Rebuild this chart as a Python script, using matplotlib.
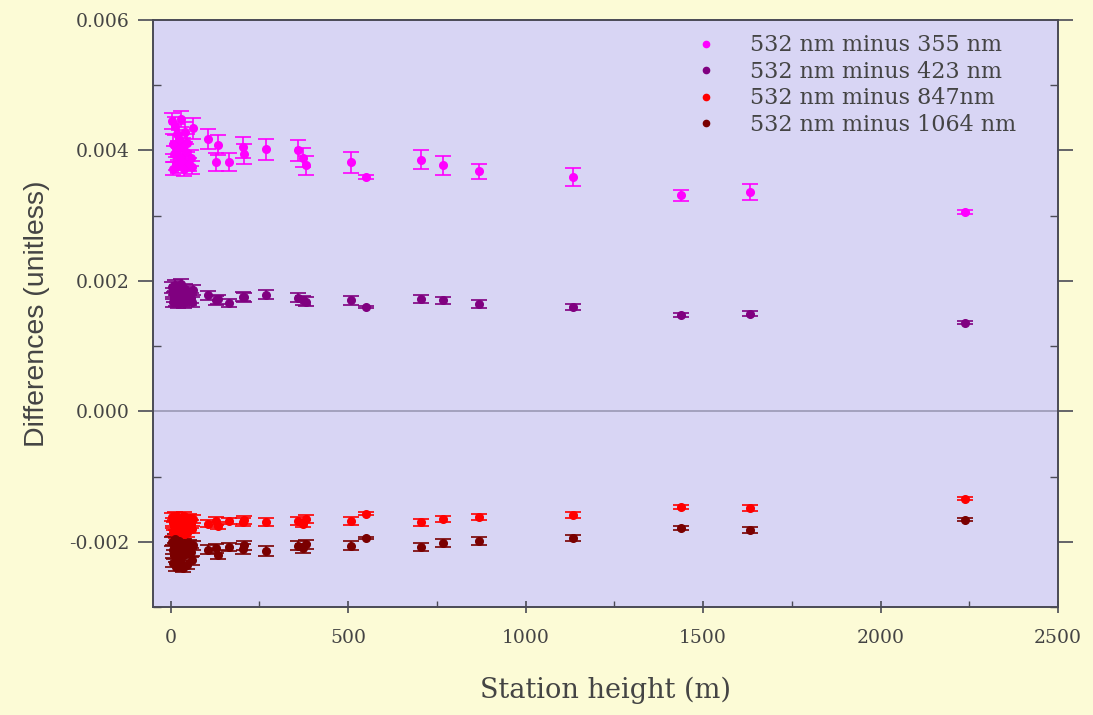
"""Colour differences vs station height
"""

import numpy as np
import matplotlib
matplotlib.use('Agg')
import matplotlib.pyplot as plt
from matplotlib.ticker import MultipleLocator

plt.rcParams['font.family'] = ['DejaVu Serif']

# station heights (m): low-lying cluster first, then the higher stations
heights = [3, 6, 7, 10, 12, 14, 17, 20, 21, 24, 27, 30, 31, 35, 38, 41, 44, 47, 52, 56, 60,
           62, 104, 127, 132, 163, 203, 206, 268, 358, 372, 380, 507, 549, 704, 766, 868,
           1132, 1439, 1631, 2239]

d355 = [0.00445, 0.00372, 0.00410, 0.00395, 0.00438, 0.00380, 0.00425, 0.00402, 0.00376,
        0.00418, 0.00390, 0.00448, 0.00384, 0.00405, 0.00371, 0.00428, 0.00398, 0.00412,
        0.00379, 0.00388, 0.00374,
        0.00434, 0.00418, 0.00382, 0.00408, 0.00382, 0.00405, 0.00395, 0.00402, 0.00400,
        0.00389, 0.00377, 0.00382, 0.00359, 0.00386, 0.00377, 0.00368, 0.00359, 0.00331,
        0.00336, 0.00305]
e355 = [0.00012, 0.00010, 0.00015, 0.00012, 0.00014, 0.00010, 0.00015, 0.00012, 0.00010,
        0.00014, 0.00012, 0.00012, 0.00010, 0.00014, 0.00010, 0.00015, 0.00012, 0.00014,
        0.00010, 0.00012, 0.00010,
        0.00016, 0.00015, 0.00014, 0.00015, 0.00014, 0.00016, 0.00015, 0.00016, 0.00016,
        0.00015, 0.00015, 0.00016, 0.00003, 0.00015, 0.00014, 0.00012, 0.00014, 0.00008,
        0.00012, 0.00003]

d423 = [0.00190, 0.00168, 0.00181, 0.00175, 0.00193, 0.00170, 0.00186, 0.00178, 0.00166,
        0.00184, 0.00173, 0.00195, 0.00169, 0.00180, 0.00167, 0.00188, 0.00176, 0.00182,
        0.00171, 0.00174, 0.00168,
        0.00186, 0.00178, 0.00170, 0.00172, 0.00166, 0.00176, 0.00175, 0.00179, 0.00174,
        0.00170, 0.00168, 0.00170, 0.00160, 0.00172, 0.00170, 0.00165, 0.00160, 0.00148,
        0.00150, 0.00136]
e423 = [0.00008] * 21 + [0.00008, 0.00007, 0.00007, 0.00007, 0.00006, 0.00007, 0.00007,
                         0.00007, 0.00007, 0.00007, 0.00007, 0.00007, 0.00002, 0.00006,
                         0.00006, 0.00006, 0.00005, 0.00003, 0.00004, 0.00002]

d847 = [-0.00162, -0.00185, -0.00170, -0.00176, -0.00160, -0.00188, -0.00166, -0.00179,
        -0.00172, -0.00163, -0.00183, -0.00168, -0.00175, -0.00190, -0.00161, -0.00177,
        -0.00169, -0.00186, -0.00164, -0.00173, -0.00181,
        -0.00165, -0.00172, -0.00168, -0.00175, -0.00168, -0.00170, -0.00166, -0.00170,
        -0.00168, -0.00172, -0.00165, -0.00168, -0.00157, -0.00170, -0.00165, -0.00162,
        -0.00159, -0.00147, -0.00148, -0.00134]
e847 = [0.00006] * 21 + [0.00006, 0.00006, 0.00006, 0.00006, 0.00005, 0.00006, 0.00006,
                         0.00006, 0.00006, 0.00006, 0.00006, 0.00006, 0.00002, 0.00005,
                         0.00005, 0.00005, 0.00004, 0.00003, 0.00004, 0.00002]

d1064 = [-0.00200, -0.00232, -0.00212, -0.00220, -0.00195, -0.00238, -0.00205, -0.00226,
         -0.00215, -0.00198, -0.00230, -0.00208, -0.00222, -0.00240, -0.00202, -0.00218,
         -0.00210, -0.00235, -0.00204, -0.00216, -0.00228,
         -0.00205, -0.00212, -0.00210, -0.00220, -0.00208, -0.00211, -0.00205, -0.00214,
         -0.00206, -0.00210, -0.00204, -0.00206, -0.00194, -0.00208, -0.00202, -0.00199,
         -0.00194, -0.00179, -0.00182, -0.00166]
e1064 = [0.00007] * 21 + [0.00007, 0.00007, 0.00007, 0.00007, 0.00006, 0.00007, 0.00007,
                          0.00007, 0.00007, 0.00007, 0.00007, 0.00007, 0.00002, 0.00006,
                          0.00006, 0.00006, 0.00005, 0.00003, 0.00004, 0.00002]

labels = ['532 nm minus 355 nm', '532 nm minus 423 nm',
          '532 nm minus 847nm', '532 nm minus 1064 nm']
colors = ['#ff00ff', '#800080', '#ff0000', '#7a0000']

# figure
fig = plt.figure(figsize=(10.93, 7.15), dpi=100, facecolor='#fcfbd6')
ax = fig.add_axes([0.140, 0.151, 0.828, 0.821], facecolor='#d8d5f4')

ax.axhline(0, color='#9a98b4', lw=1.2, zorder=1)

series = [(d355, e355), (d423, e423), (d847, e847), (d1064, e1064)]
for (d, e), lab, c in zip(series, labels, colors):
    ax.errorbar(heights, d, yerr=e, fmt='o', ms=5.5, color=c, ecolor=c,
                elinewidth=1.2, capsize=6, capthick=1.2, zorder=3)
    ax.plot([], [], 'o', ms=4.5, color=c, label=lab)

ax.set_xlim(-50, 2500)
ax.set_ylim(-0.003, 0.006)
ax.xaxis.set_major_locator(MultipleLocator(500))
ax.xaxis.set_minor_locator(MultipleLocator(250))
ax.yaxis.set_major_locator(MultipleLocator(0.002))
ax.yaxis.set_minor_locator(MultipleLocator(0.001))
ax.yaxis.set_major_formatter(plt.FuncFormatter(lambda v, p: '%.3f' % v))

for s in ax.spines.values():
    s.set_color('#4a4a55')
    s.set_linewidth(1.4)

ax.tick_params(axis='x', which='major', direction='inout', length=8, width=1.2,
               color='#4a4a55', pad=12, labelsize=13.5, labelcolor='#444444')
ax.tick_params(axis='x', which='minor', direction='in', length=4, width=1.0, color='#4a4a55')
ax.tick_params(axis='y', which='major', direction='out', length=11, width=1.2,
               color='#4a4a55', right=True, pad=6, labelsize=13.5, labelcolor='#444444')
ax.tick_params(axis='y', which='minor', direction='in', length=6, width=1.0,
               color='#4a4a55', right=True)
ax.tick_params(axis='y', which='both', labelright=False)

ax.set_xlabel('Station height (m)', fontsize=19.5, color='#444444', labelpad=21)
ax.set_ylabel('Differences (unitless)', family=['Liberation Sans'],
              fontsize=20.5, color='#444444', labelpad=14)

leg = ax.legend(loc='upper right', frameon=False, prop={'size': 16},
                handletextpad=1.0, labelspacing=0.2, borderaxespad=0.25,
                bbox_to_anchor=(0.97, 1.0))
for t in leg.get_texts():
    t.set_color('#444444')

fig.savefig('out.png', dpi=100, facecolor=fig.get_facecolor())
